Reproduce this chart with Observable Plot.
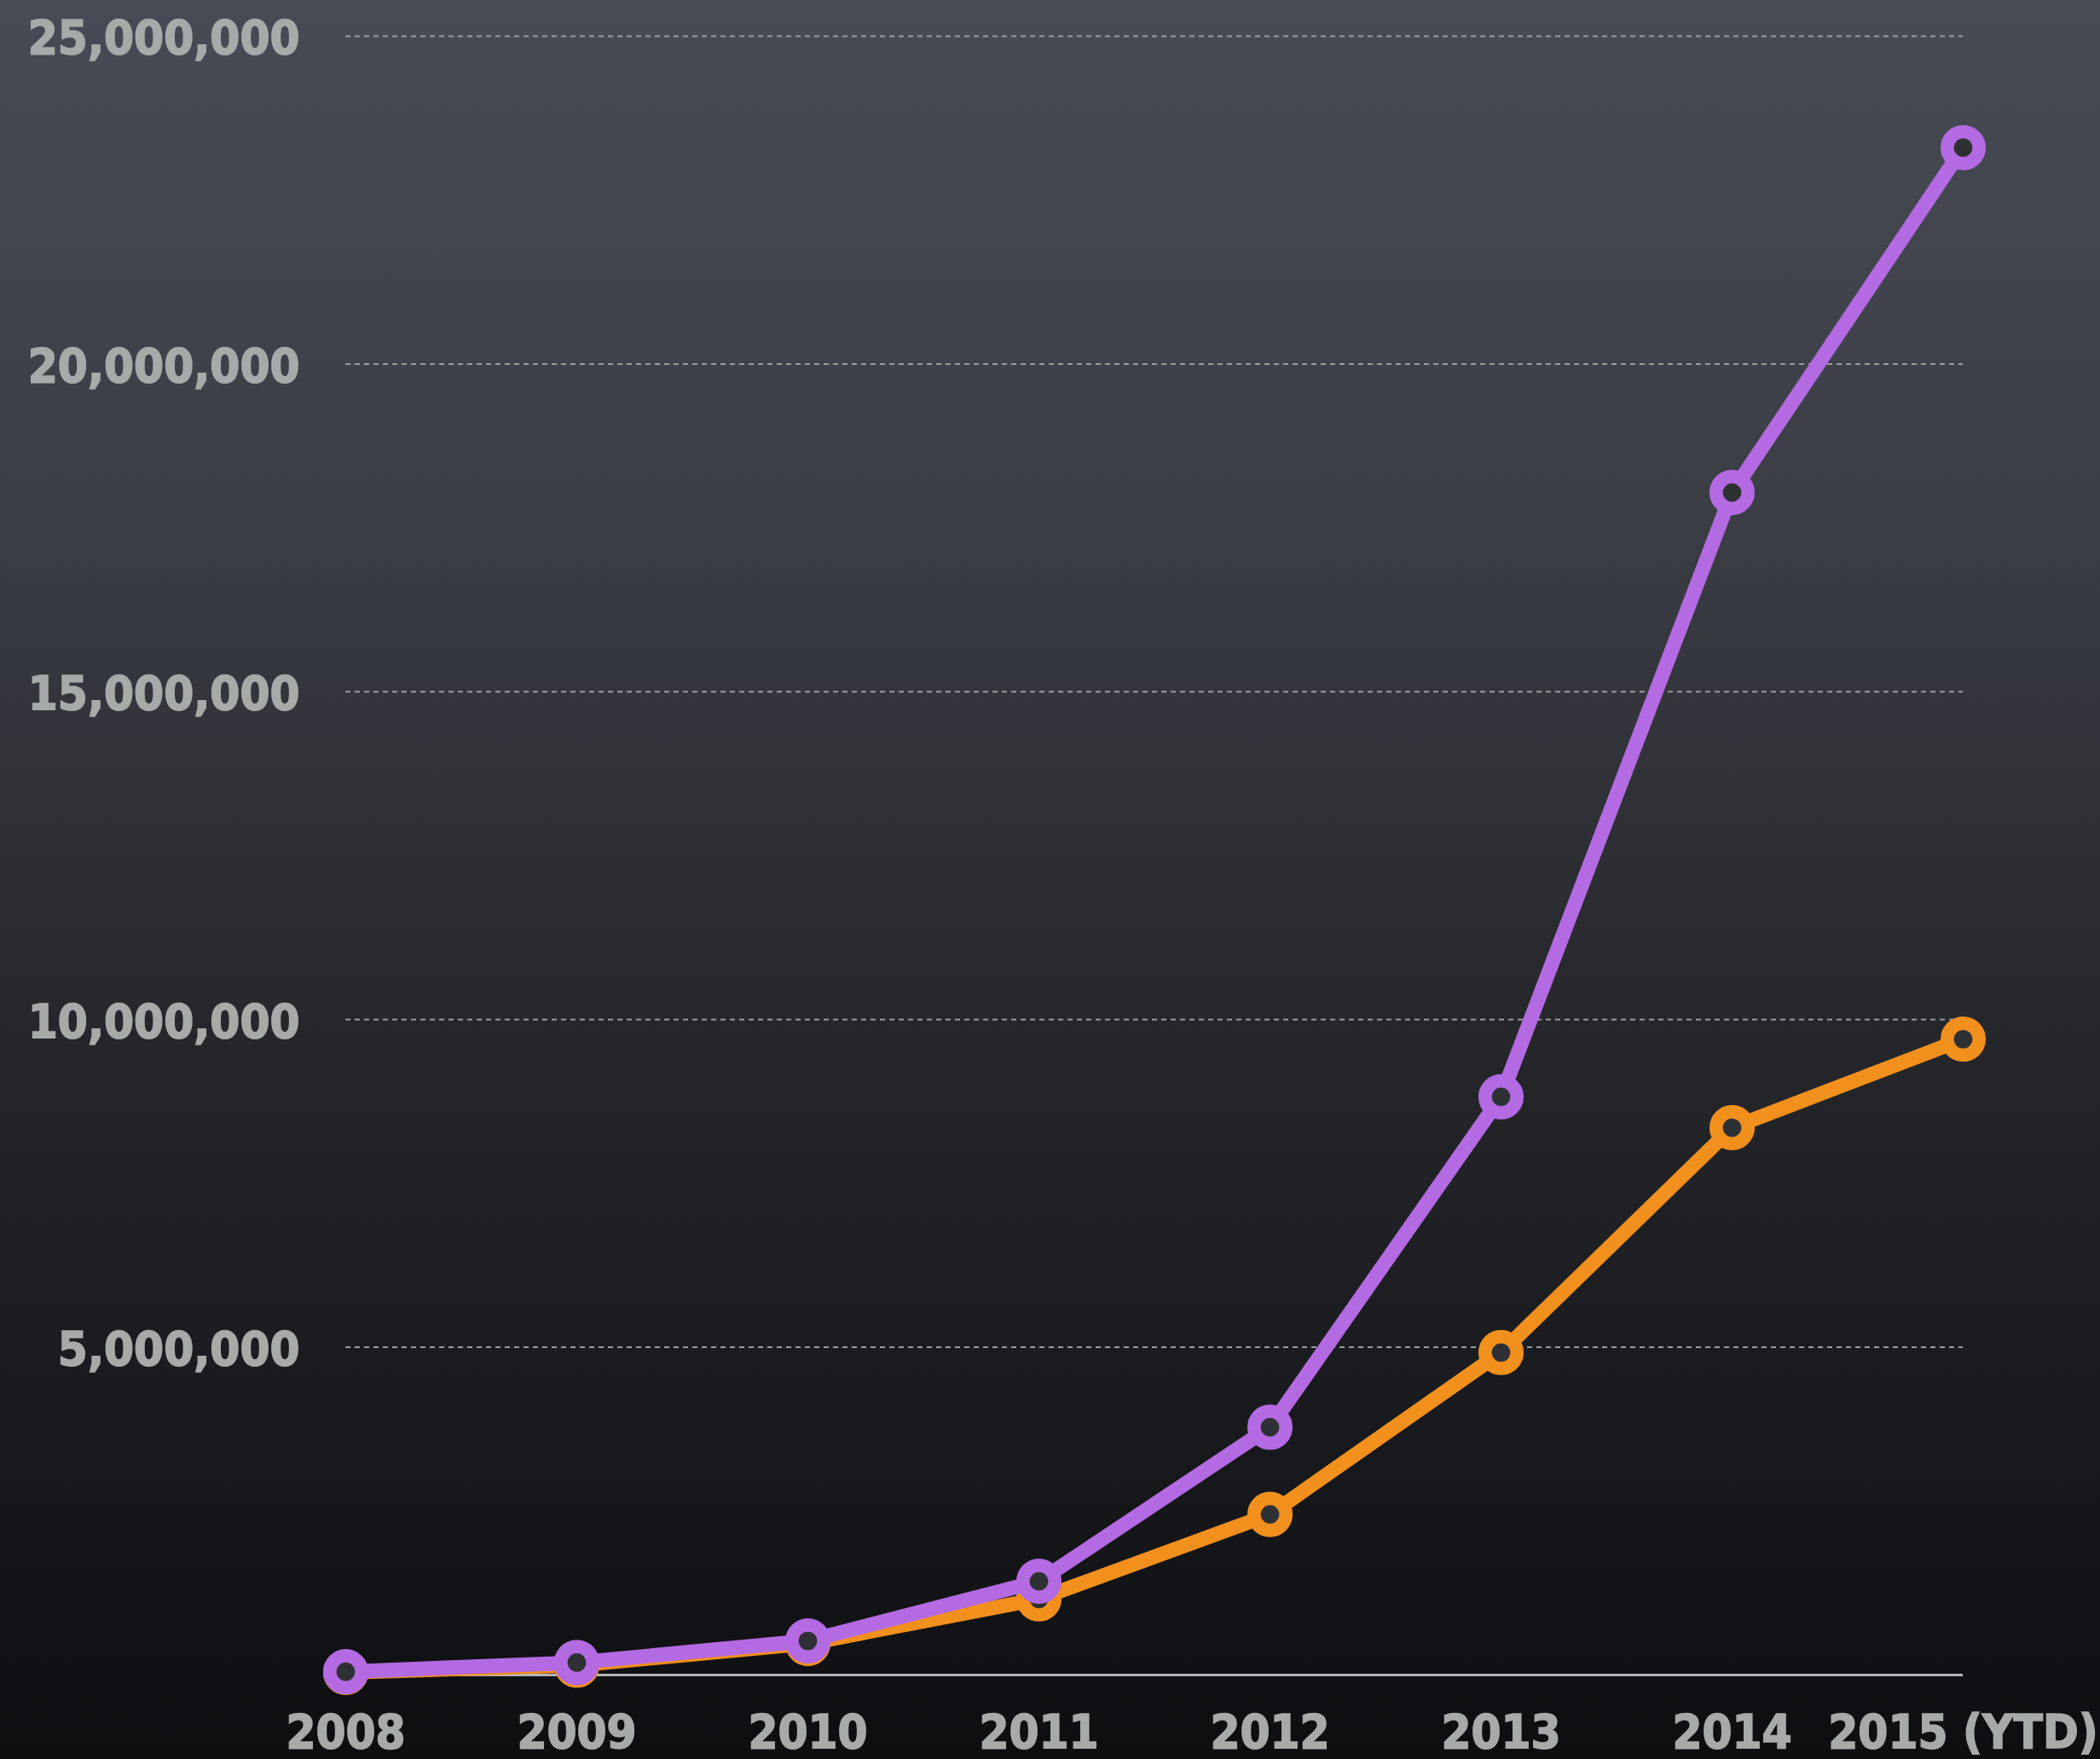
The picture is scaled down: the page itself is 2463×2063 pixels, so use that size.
<!DOCTYPE html>
<html>
<head>
<meta charset="utf-8">
<script src="https://cdn.jsdelivr.net/npm/d3@7"></script>
<script src="https://cdn.jsdelivr.net/npm/@observablehq/plot@0.6"></script>
<style>
  html, body { margin: 0; padding: 0; background: #0e0f11; }
  #chart svg { display: block; }
  #chart svg g[aria-label="y-axis tick label"] text,
  #chart svg g[aria-label="x-axis tick label"] text {
    stroke: #a6aaa9; stroke-width: 1.6px; paint-order: stroke;
  }
</style>
</head>
<body>
<div id="chart"></div>
<script>
const years = ["2008", "2009", "2010", "2011", "2012", "2013", "2014", "2015 (YTD)"];
const purpleValues = [50000, 190000, 520000, 1430000, 3780000, 8820000, 18040000, 23300000];
const orangeValues = [40000, 150000, 480000, 1160000, 2450000, 4920000, 8350000, 9700000];
const yTicks = [5000000, 10000000, 15000000, 20000000, 25000000];

const seriesColors = {orange: "#f2901d", purple: "#b46ae2"};
const data = [
  ...years.map((y, i) => ({year: y, value: orangeValues[i], series: "orange"})),
  ...years.map((y, i) => ({year: y, value: purpleValues[i], series: "purple"}))
];
const orange = data.filter(d => d.series === "orange");
const purple = data.filter(d => d.series === "purple");

const chart = Plot.plot({
  width: 2463,
  height: 2063,
  marginLeft: 405,
  marginRight: 161,
  marginTop: 42,
  marginBottom: 99,
  style: {
    background: "linear-gradient(to bottom, #474b55 0%, #3a3d44 30%, #24262a 60%, #0d0e10 100%)",
    fontFamily: "'DejaVu Sans Condensed', 'DejaVu Sans', sans-serif",
    fontWeight: "bold",
    color: "#a6aaa9"
  },
  x: {type: "point", domain: years, padding: 0, label: null},
  y: {domain: [0, 25000000], label: null},
  marks: [
    Plot.ruleY(yTicks, {stroke: "#9a9c9e", strokeWidth: 2, strokeDasharray: "6,5"}),
    Plot.ruleY([0], {stroke: "#b4b6b8", strokeWidth: 3}),
    Plot.axisY(yTicks, {
      tickSize: 0, tickPadding: 54, tickFormat: d3.format(","),
      fontSize: 56, fill: "#a6aaa9", fontWeight: "bold", dy: 3, label: null
    }),
    Plot.axisX(years, {
      tickSize: 0, tickPadding: 46, fontSize: 56, fill: "#a6aaa9", fontWeight: "bold", label: null
    }),
    Plot.line(orange, {x: "year", y: "value", stroke: seriesColors.orange, strokeWidth: 17, strokeLinejoin: "round"}),
    Plot.dot(orange, {x: "year", y: "value", r: 18.7, stroke: seriesColors.orange, strokeWidth: 15.7, fill: "#2e3134"}),
    Plot.line(purple, {x: "year", y: "value", stroke: seriesColors.purple, strokeWidth: 17, strokeLinejoin: "round"}),
    Plot.dot(purple, {x: "year", y: "value", r: 18.7, stroke: seriesColors.purple, strokeWidth: 15.7, fill: "#2e3134"})
  ]
});
document.getElementById("chart").appendChild(chart);
</script>
</body>
</html>
